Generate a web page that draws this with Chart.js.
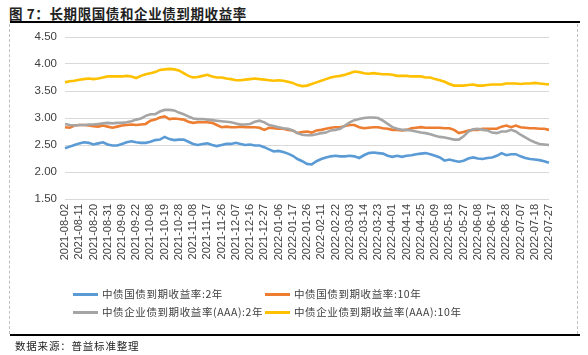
<!DOCTYPE html>
<html>
<head>
<meta charset="utf-8">
<script src="https://cdn.jsdelivr.net/npm/chart.js@4.4.1/dist/chart.umd.min.js"></script>
<style>
  html, body { margin: 0; padding: 0; background: #fff; }
  #wrap { position: relative; width: 588px; height: 355px; overflow: hidden; background: #fff; }
  #c { position: absolute; left: 0; top: 0; }
  .title { position: absolute; left: 9px; top: 3px; font-family: "Noto Sans CJK SC", sans-serif; font-size: 13.5px; font-weight: bold; color: #222; letter-spacing: 0.6px; white-space: nowrap; }
  .rule { position: absolute; left: 10px; width: 570px; height: 2px; background: #000; }
  .dash { position: absolute; top: 24px; height: 310px; width: 0; border-left: 1px dashed #bfbfbf; }
  .foot { position: absolute; left: 15px; top: 338px; font-family: "Noto Sans CJK SC", sans-serif; font-size: 10.5px; color: #222; letter-spacing: 0.8px; white-space: nowrap; }
  .leg { position: absolute; font-family: "Noto Sans CJK SC", sans-serif; font-size: 10.5px; color: #404040; white-space: nowrap; letter-spacing: 0.6px; line-height: 14px; }
  .leg i { display: inline-block; width: 25px; height: 3px; vertical-align: middle; margin-right: 4px; position: relative; top: -1px; }
</style>
</head>
<body>
<div id="wrap">
  <div class="title">图 7：长期限国债和企业债到期收益率</div>
  <div class="rule" style="top:21px;"></div>
  <div class="dash" style="left:9px;"></div>
  <div class="dash" style="left:577px;"></div>
  <canvas id="c" width="588" height="355"></canvas>
  <div id="legend"></div>
  <div class="rule" style="top:334px;"></div>
  <div class="foot">数据来源：普益标准整理</div>
</div>
<script>
// Tick labels shown on the x axis (every third data point)
const tickLabels = [
  "2021-08-02","2021-08-11","2021-08-20","2021-08-31","2021-09-09","2021-09-22",
  "2021-10-08","2021-10-19","2021-10-28","2021-11-08","2021-11-17","2021-11-26",
  "2021-12-07","2021-12-16","2021-12-27","2022-01-06","2022-01-17","2022-01-26",
  "2022-02-11","2022-02-22","2022-03-03","2022-03-14","2022-03-23","2022-04-01",
  "2022-04-14","2022-04-25","2022-05-09","2022-05-18","2022-05-27","2022-06-08",
  "2022-06-17","2022-06-28","2022-07-07","2022-07-18","2022-07-27"
];
const pointsPerTick = 3;

const seriesNames = [
  "中债国债到期收益率:2年",
  "中债国债到期收益率:10年",
  "中债企业债到期收益率(AAA):2年",
  "中债企业债到期收益率(AAA):10年"
];

const gov2y = [
  2.44,2.47,2.50,2.53,2.55,2.54,2.51,2.53,2.55,2.51,2.49,2.49,2.52,2.55,2.57,2.55,2.54,2.54,2.56,2.59,2.60,
  2.65,2.61,2.59,2.60,2.60,2.56,2.52,2.50,2.52,2.53,2.50,2.48,2.50,2.52,2.52,2.54,2.52,2.50,2.51,2.49,
  2.49,2.46,2.42,2.38,2.39,2.37,2.34,2.30,2.24,2.20,2.15,2.14,2.20,2.24,2.27,2.29,2.30,2.29,2.29,2.30,
  2.29,2.26,2.31,2.35,2.36,2.35,2.34,2.30,2.28,2.30,2.28,2.30,2.31,2.33,2.34,2.35,2.33,2.30,2.27,2.21,2.23,
  2.21,2.19,2.21,2.25,2.27,2.25,2.24,2.26,2.27,2.30,2.35,2.31,2.33,2.33,2.29,2.26,2.24,2.23,2.22,2.20,2.17
];
const gov10y = [
  2.83,2.82,2.86,2.87,2.87,2.86,2.85,2.84,2.86,2.84,2.82,2.84,2.86,2.87,2.88,2.87,2.88,2.89,2.95,2.97,3.01,
  3.03,2.98,2.99,2.98,2.97,2.93,2.91,2.92,2.92,2.92,2.91,2.87,2.83,2.84,2.83,2.83,2.84,2.83,2.83,2.83,
  2.82,2.78,2.82,2.81,2.80,2.80,2.78,2.77,2.72,2.74,2.75,2.73,2.77,2.78,2.80,2.82,2.83,2.83,2.85,2.87,
  2.87,2.83,2.81,2.82,2.83,2.83,2.81,2.80,2.78,2.78,2.77,2.78,2.81,2.82,2.83,2.82,2.82,2.82,2.82,2.81,2.81,
  2.78,2.72,2.74,2.77,2.78,2.78,2.80,2.80,2.80,2.80,2.84,2.86,2.83,2.86,2.83,2.82,2.81,2.81,2.80,2.80,2.78
];
const corp2y = [
  2.89,2.87,2.86,2.87,2.87,2.88,2.88,2.89,2.90,2.91,2.90,2.91,2.91,2.92,2.94,2.97,2.99,3.04,3.07,3.07,3.12,
  3.15,3.15,3.14,3.10,3.07,3.03,2.99,2.98,2.98,2.97,2.96,2.95,2.94,2.93,2.92,2.90,2.88,2.88,2.89,2.93,
  2.95,2.92,2.87,2.85,2.83,2.81,2.80,2.77,2.72,2.69,2.68,2.68,2.70,2.72,2.73,2.77,2.78,2.80,2.86,2.92,
  2.96,2.98,3.00,3.01,3.01,3.00,2.95,2.89,2.83,2.80,2.78,2.78,2.77,2.75,2.73,2.72,2.70,2.67,2.65,2.64,2.62,
  2.60,2.60,2.66,2.75,2.79,2.80,2.78,2.77,2.73,2.72,2.75,2.75,2.78,2.75,2.69,2.64,2.59,2.55,2.52,2.51,2.50
];
const corp10y = [
  3.66,3.68,3.69,3.71,3.72,3.73,3.72,3.73,3.75,3.77,3.77,3.77,3.77,3.78,3.77,3.74,3.78,3.81,3.83,3.85,3.89,
  3.90,3.91,3.90,3.88,3.83,3.78,3.75,3.76,3.78,3.80,3.77,3.75,3.75,3.73,3.72,3.70,3.70,3.71,3.72,3.73,
  3.72,3.71,3.70,3.69,3.70,3.69,3.67,3.65,3.61,3.59,3.60,3.63,3.66,3.69,3.72,3.75,3.77,3.78,3.80,3.83,
  3.86,3.85,3.83,3.82,3.83,3.82,3.81,3.81,3.80,3.78,3.78,3.78,3.77,3.77,3.77,3.75,3.75,3.72,3.70,3.67,3.63,
  3.60,3.60,3.60,3.61,3.62,3.60,3.60,3.61,3.62,3.62,3.62,3.64,3.64,3.64,3.63,3.64,3.64,3.65,3.64,3.63,3.62
];

const seriesColors = ["#5B9BD5", "#ED7D31", "#A5A5A5", "#FFC000"];
const seriesData = [gov2y, gov10y, corp2y, corp10y];

const yMin = 1.5, yMax = 4.5, yStep = 0.5;

// category labels: tick label every pointsPerTick points, blank otherwise
const categories = gov2y.map((_, i) => (i % pointsPerTick === 0 ? tickLabels[i / pointsPerTick] : ""));

const datasets = seriesData.map((d, k) => ({
  label: seriesNames[k],
  data: d,
  borderColor: seriesColors[k],
  backgroundColor: seriesColors[k],
  borderWidth: 2.6,
  pointRadius: 0,
  tension: 0,
  fill: false,
  order: 3 - k
}));

new Chart(document.getElementById("c"), {
  type: "line",
  data: { labels: categories, datasets },
  options: {
    responsive: false,
    animation: false,
    devicePixelRatio: 1,
    layout: { padding: { left: 10, right: 39, top: 37, bottom: 0 } },
    plugins: { legend: { display: false }, tooltip: { enabled: false }, title: { display: false } },
    scales: {
      x: {
        offset: false,
        grid: { display: false, drawTicks: false },
        border: { display: false },
        afterFit: s => { s.height = 156; },
        ticks: {
          autoSkip: false,
          minRotation: 90,
          maxRotation: 90,
          padding: 5,
          color: "#404040",
          font: { family: "'Liberation Sans', Arial, sans-serif", size: 11 },
          callback: function (v, i) { return categories[i]; }
        }
      },
      y: {
        min: yMin,
        max: yMax,
        afterFit: s => { s.width = 55; },
        grid: { color: "#d9d9d9", drawTicks: false, lineWidth: 1 },
        border: { display: false },
        ticks: {
          stepSize: yStep,
          padding: 8,
          color: "#404040",
          font: { family: "'Liberation Sans', Arial, sans-serif", size: 11.5 },
          callback: v => v.toFixed(2)
        }
      }
    }
  }
});

// legend (2 x 2 grid) built from the series arrays
const legendPos = [[73, 287], [265, 287], [73, 305], [265, 305]];
const lg = document.getElementById("legend");
seriesNames.forEach((n, k) => {
  const d = document.createElement("div");
  d.className = "leg";
  d.style.left = legendPos[k][0] + "px";
  d.style.top = legendPos[k][1] + "px";
  d.innerHTML = '<i style="background:' + seriesColors[k] + '"></i>' + n;
  lg.appendChild(d);
});
</script>
</body>
</html>
